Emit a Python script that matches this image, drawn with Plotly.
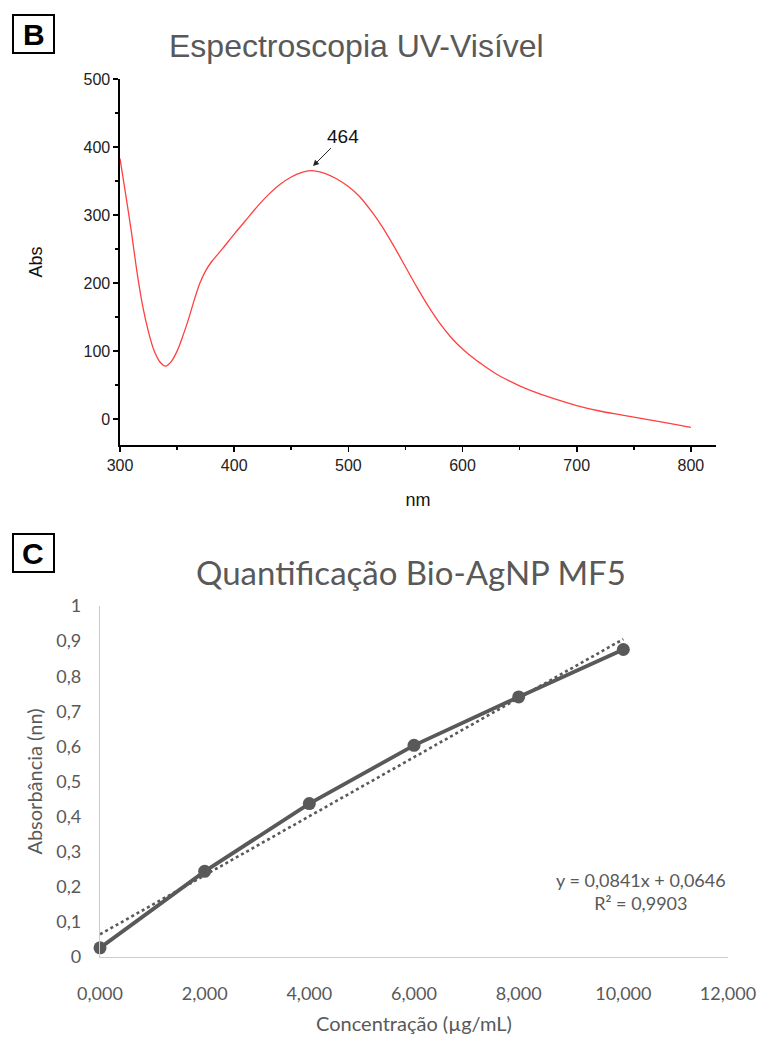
import plotly.graph_objects as go

W, H = 759, 1042

# ---------------- Data: panel B (UV-Vis spectrum) ----------------
wavelength_nm = [300, 305, 310, 315, 320, 325, 330, 335, 340, 345, 350, 355, 360, 365,
                 370, 375, 380, 385, 390, 400, 410, 420, 430, 440, 450, 460, 465, 470,
                 480, 490, 500, 510, 520, 530, 540, 550, 560, 570, 580, 590, 600, 610,
                 620, 630, 640, 650, 660, 680, 700, 720, 740, 760, 780, 800]
absorbance = [383, 330, 275, 215, 165, 128, 100, 84, 78, 85, 100, 122, 147, 175,
              200, 218, 231, 241, 251, 272, 292, 312, 330, 345, 356, 363, 365, 365,
              361, 353, 342, 327, 306, 282, 254, 224, 194, 166, 141, 120, 103, 89,
              77, 66, 57, 49, 42, 30, 20, 12, 6, 0, -6, -12]
peak_label = "464"
peak_x, peak_y = 469, 372

# ---------------- Data: panel C (calibration) ----------------
concentration = [0, 2, 4, 6, 8, 10]
abs_values = [0.026, 0.244, 0.437, 0.603, 0.741, 0.876]
trend_slope, trend_intercept = 0.0841, 0.0646
trend_x = [0, 10]
equation_text = "y = 0,0841x + 0,0646<br>R² = 0,9903"

def px(x):
    return x / W

def py(y):
    return 1 - y / H

fig = go.Figure()

# Panel B
fig.add_trace(go.Scatter(
    x=wavelength_nm, y=absorbance, mode="lines",
    line=dict(color="#ff4040", width=1.3, shape="spline", smoothing=0.8),
    xaxis="x", yaxis="y", showlegend=False, hoverinfo="skip"))

# Panel C
trend_y = [trend_slope * t + trend_intercept for t in trend_x]
fig.add_trace(go.Scatter(
    x=trend_x, y=trend_y, mode="lines",
    line=dict(color="#595959", width=2.6, dash="dot"),
    xaxis="x2", yaxis="y2", showlegend=False, hoverinfo="skip", cliponaxis=False))
fig.add_trace(go.Scatter(
    x=concentration, y=abs_values, mode="lines+markers",
    line=dict(color="#595959", width=3.8),
    marker=dict(color="#595959", size=13),
    xaxis="x2", yaxis="y2", showlegend=False, hoverinfo="skip", cliponaxis=False))

fontB = "Liberation Sans, Arial, sans-serif"
fontC = "Lato, Open Sans, sans-serif"

fig.update_layout(
    width=W, height=H,
    margin=dict(l=0, r=0, t=0, b=0, autoexpand=False),
    paper_bgcolor="white", plot_bgcolor="white",
    separators=",.",
    xaxis=dict(
        domain=[px(120), px(716)], anchor="y", automargin=False,
        range=[300, 822], tickvals=[300, 400, 500, 600, 700, 800],
        showline=True, linecolor="black", linewidth=1.6,
        ticks="outside", ticklen=5, tickwidth=1.6, tickcolor="black",
        minor=dict(dtick=50, tick0=300, ticks="outside", ticklen=3, tickwidth=1.6, tickcolor="black"),
        showgrid=False, zeroline=False,
        tickfont=dict(family=fontB, size=16, color="#222"),
        title=dict(text="nm", font=dict(family=fontB, size=18, color="#111"), standoff=20),
    ),
    yaxis=dict(
        domain=[py(445), py(79)], anchor="x", automargin=False,
        range=[-38, 500], tickvals=[0, 100, 200, 300, 400, 500],
        showline=True, linecolor="black", linewidth=1.6,
        ticks="outside", ticklen=5, tickwidth=1.6, tickcolor="black",
        minor=dict(dtick=50, tick0=0, ticks="outside", ticklen=3, tickwidth=1.6, tickcolor="black"),
        showgrid=False, zeroline=False,
        tickfont=dict(family=fontB, size=16, color="#222"),
        title=dict(text="Abs", font=dict(family=fontB, size=18, color="#111"), standoff=36),
    ),
    xaxis2=dict(
        domain=[px(100), px(728)], anchor="y2", automargin=False,
        range=[0, 12], tickvals=[0, 2, 4, 6, 8, 10, 12], tickformat=".3f",
        showline=True, linecolor="#cccccc", linewidth=1.2,
        ticks="", showgrid=False, zeroline=False,
        ticklabelstandoff=20,
        tickfont=dict(family=fontC, size=18, color="#595959"),
        title=dict(text="Concentração (µg/mL)", font=dict(family=fontC, size=20, color="#595959"), standoff=14),
    ),
    yaxis2=dict(
        domain=[py(957), py(606)], anchor="x2", automargin=False,
        range=[0, 1], tickvals=[0, 0.1, 0.2, 0.3, 0.4, 0.5, 0.6, 0.7, 0.8, 0.9, 1],
        showline=True, linecolor="#cccccc", linewidth=1.2,
        ticks="", showgrid=False, zeroline=False,
        ticklabelstandoff=14,
        tickfont=dict(family=fontC, size=18, color="#595959"),
        title=dict(text="Absorbância (nn)", font=dict(family=fontC, size=20, color="#595959"), standoff=8),
    ),
)

def paper_text(text, x, y, size, family, color="#595959"):
    return dict(text=text, x=px(x), y=py(y), xref="paper", yref="paper",
                xanchor="center", yanchor="middle", showarrow=False, align="center",
                font=dict(family=family, size=size, color=color))

annotations = [
    paper_text("Espectroscopia UV-Visível", 356, 46, 32, fontB),
    paper_text("Quantificação Bio-AgNP MF5", 411, 572, 33, fontC),
    paper_text("<b>B</b>", 34, 34, 30, fontB, "black"),
    paper_text("<b>C</b>", 33, 553, 30, fontB, "black"),
    paper_text(equation_text, 641, 891, 18, fontC),
    dict(text=peak_label, x=peak_x, y=peak_y, xref="x", yref="y",
         showarrow=True, arrowhead=2, arrowsize=1.2, arrowwidth=1, arrowcolor="#222",
         ax=30, ay=-30, standoff=0,
         font=dict(family=fontB, size=19, color="#111")),
]
fig.update_layout(annotations=annotations)

shapes = [
    dict(type="rect", xref="paper", yref="paper", x0=px(13), x1=px(54), y0=py(53), y1=py(15),
         line=dict(color="black", width=2)),
    dict(type="rect", xref="paper", yref="paper", x0=px(13), x1=px(54), y0=py(572), y1=py(534),
         line=dict(color="black", width=2)),
]
fig.update_layout(shapes=shapes)

fig.write_html(
    "out.html",
    config={"displayModeBar": False, "staticPlot": True},
    post_script="document.body.style.margin='0';document.body.style.overflow='hidden';",
)
